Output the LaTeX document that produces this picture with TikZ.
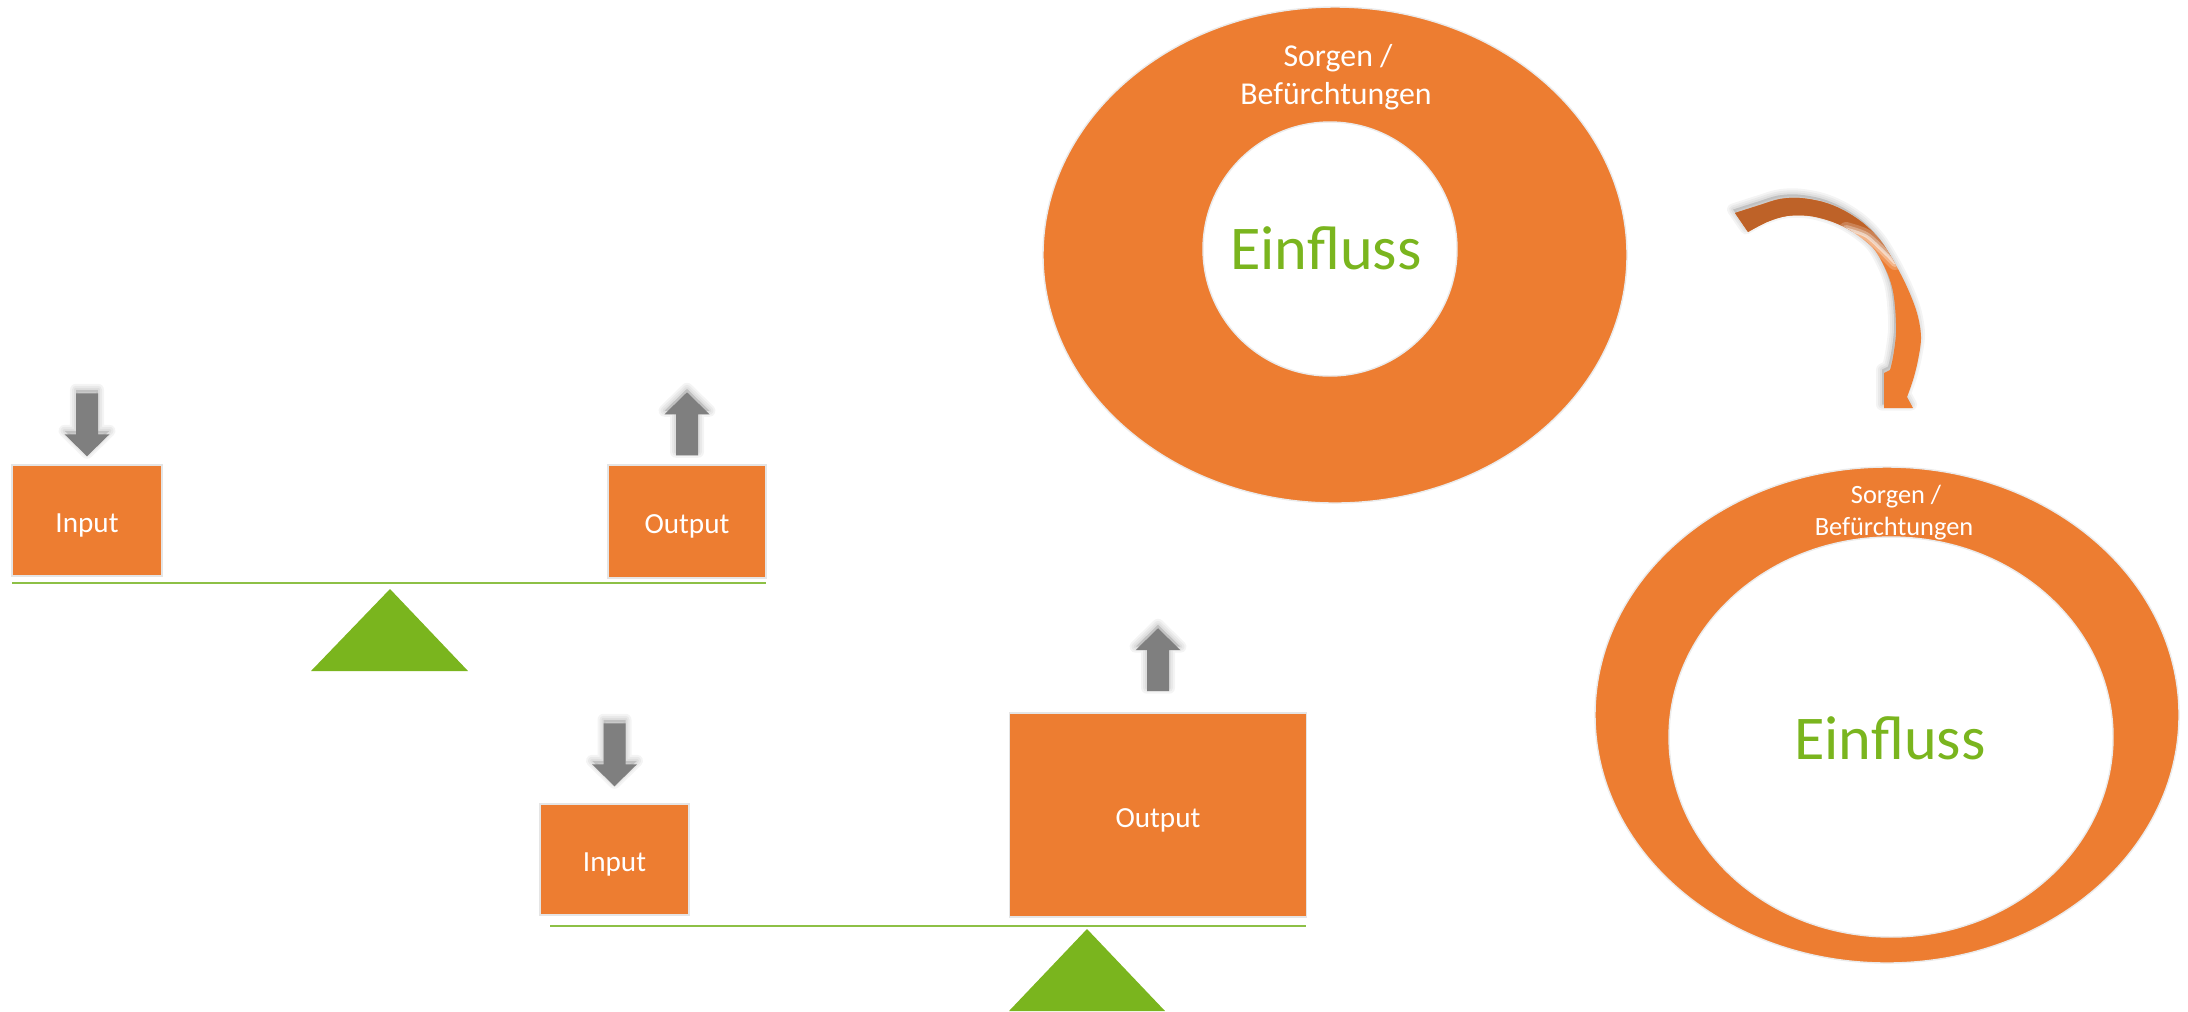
\documentclass[tikz,border=0pt]{standalone}
\usepackage{fontspec}
\setmainfont{Carlito}
\definecolor{orange1}{HTML}{ED7D31}
\definecolor{orange2}{HTML}{BE6228}
\definecolor{green1}{HTML}{7AB51E}
\definecolor{green2}{HTML}{8DC046}
\definecolor{gray1}{HTML}{7F7F7F}
\begin{document}
\begin{tikzpicture}[x=0.01cm,y=-0.01cm,
  halo/.style={draw=black,fill=black,opacity=0.045,line width=#1,line join=round,yshift=0.035cm},
  block/.style={fill=orange1,draw=black!10,line width=0.4pt,inner sep=0pt,text=white,text height=0.24cm,text depth=0pt,font=\fontsize{8.3pt}{10pt}\selectfont},
  beam/.style={draw=green2,line width=0.6pt},
  pivot/.style={fill=green1},
  ring/.style={fill=orange1,even odd rule,draw=black!8,line width=0.4pt},
  ringbig/.style={text=white,font=\fontsize{9.05pt}{11pt}\selectfont,anchor=base,inner sep=0pt},
  ringsmall/.style={text=white,font=\fontsize{7.5pt}{9pt}\selectfont,anchor=base,inner sep=0pt},
  influence/.style={text=green1,font=\fontsize{17.7pt}{21pt}\selectfont,anchor=base,inner sep=0pt},
  pushdown/.pic={
    \foreach \lw in {0.12cm,0.08cm,0.04cm}
      \path[halo=\lw] (-11,-63) -- (11,-63) -- (11,-22) -- (22.5,-22) -- (0,0) -- (-22.5,-22) -- (-11,-22) -- cycle;
    \fill[gray1] (-11,-63) -- (11,-63) -- (11,-22) -- (22.5,-22) -- (0,0) -- (-22.5,-22) -- (-11,-22) -- cycle;},
  pullup/.pic={
    \foreach \lw in {0.12cm,0.08cm,0.04cm}
      \path[halo=\lw] (-11,0) -- (11,0) -- (11,-41) -- (22.5,-41) -- (0,-63) -- (-22.5,-41) -- (-11,-41) -- cycle;
    \fill[gray1] (-11,0) -- (11,0) -- (11,-41) -- (22.5,-41) -- (0,-63) -- (-22.5,-41) -- (-11,-41) -- cycle;},
]
% canvas
\fill[white] (0,0) rectangle (2188,1011);
\useasboundingbox (0,0) rectangle (2188,1011);

% upper seesaw: balanced
\node[block,minimum width=1.50cm,minimum height=1.11cm] (in1) at (87,520.5) {Input};
\node[block,minimum width=1.58cm,minimum height=1.13cm] (out1) at (687,521.5) {Output};
\pic at ([yshift=0.08cm]in1.north) {pushdown};
\pic at ([yshift=0.09cm]out1.north) {pullup};
\coordinate (b1l) at (12,583);
\coordinate (b1r) at (766,583);
\draw[beam] (b1l) -- (b1r);
\fill[pivot] (390,589) -- (468,671) -- (311,671) -- cycle;

% lower seesaw: output outweighs input
\node[block,minimum width=1.49cm,minimum height=1.11cm] (in2) at (614.5,859.5) {Input};
\node[block,minimum width=2.97cm,minimum height=2.04cm] (out2) at (1158,815) {Output};
\pic at ([yshift=0.17cm]in2.north) {pushdown};
\pic at ([yshift=0.21cm]out2.north) {pullup};
\coordinate (b2l) at (550,926);
\coordinate (b2r) at (1306,926);
\draw[beam] (b2l) -- (b2r);
\fill[pivot] (1087,929) -- (1165,1011) -- (1009,1011) -- cycle;

% rings: small circle of influence, then a grown one
\path[ring] (1335,255) ellipse [x radius=292,y radius=248] (1330,249) circle [radius=127];
\node[ringbig] (w1a) at (1338,66) {Sorgen /};
\node[ringbig] (w1b) at (1336,104) {Befürchtungen};
\node[influence] (e1) at (1326,269) {Einfluss};

\path[ring] (1887,715) ellipse [x radius=292,y radius=248] (1891,737) ellipse [x radius=222,y radius=200];
\node[ringsmall] (w2a) at (1896,503) {Sorgen /};
\node[ringsmall] (w2b) at (1894,535) {Befürchtungen};
\node[influence] (e2) at (1890,759) {Einfluss};

% curved arrow between the two rings
\foreach \lw in {0.12cm,0.08cm,0.04cm}
  \path[halo=\lw,xshift=-0.02cm]
    plot[smooth,tension=0.55] coordinates {(1735,213) (1760,205) (1780,199) (1800,198) (1823,202) (1843,210) (1863,223) (1880,240) (1893,260) (1907,287) (1917,313) (1921,337) (1918,360) (1913,380) (1907,397)}
    -- (1913,408) -- (1884,408) -- (1884,373)
    -- plot[smooth,tension=0.55] coordinates {(1890,370) (1893,357) (1896,333) (1895,307) (1892,287) (1885,268) (1873,248) (1853,232) (1833,222) (1810,216) (1787,216) (1767,222) (1748,232)}
    -- cycle;
\fill[orange1]
  plot[smooth,tension=0.55] coordinates {(1735,213) (1760,205) (1780,199) (1800,198) (1823,202) (1843,210) (1863,223) (1880,240) (1893,260) (1907,287) (1917,313) (1921,337) (1918,360) (1913,380) (1907,397)}
  -- (1913,408) -- (1884,408) -- (1884,373)
  -- plot[smooth,tension=0.55] coordinates {(1890,370) (1893,357) (1896,333) (1895,307) (1892,287) (1885,268) (1873,248) (1853,232) (1833,222) (1810,216) (1787,216) (1767,222) (1748,232)}
  -- cycle;
\begin{scope}
  \clip
    plot[smooth,tension=0.55] coordinates {(1735,213) (1760,205) (1780,199) (1800,198) (1823,202) (1843,210) (1863,223) (1880,240) (1893,260) (1907,287) (1917,313) (1921,337) (1918,360) (1913,380) (1907,397)}
    -- (1913,408) -- (1884,408) -- (1884,373)
    -- plot[smooth,tension=0.55] coordinates {(1890,370) (1893,357) (1896,333) (1895,307) (1892,287) (1885,268) (1873,248) (1853,232) (1833,222) (1810,216) (1787,216) (1767,222) (1748,232)}
    -- cycle;
  \fill[orange2] (1700,140) -- (1990,140) -- (1990,240) -- (1902,271) -- (1893,261) -- (1884,252) -- (1866,236) -- (1848,230) -- (1840,245) -- (1700,320) -- cycle;
  \foreach \w/\o in {0.14cm/0.2,0.08cm/0.3,0.03cm/0.5}
    \draw[white,opacity=\o,line width=\w,line cap=round] plot[smooth] coordinates {(1846,229) (1866,236) (1884,252) (1895,263)};
\end{scope}
\end{tikzpicture}
\end{document}
